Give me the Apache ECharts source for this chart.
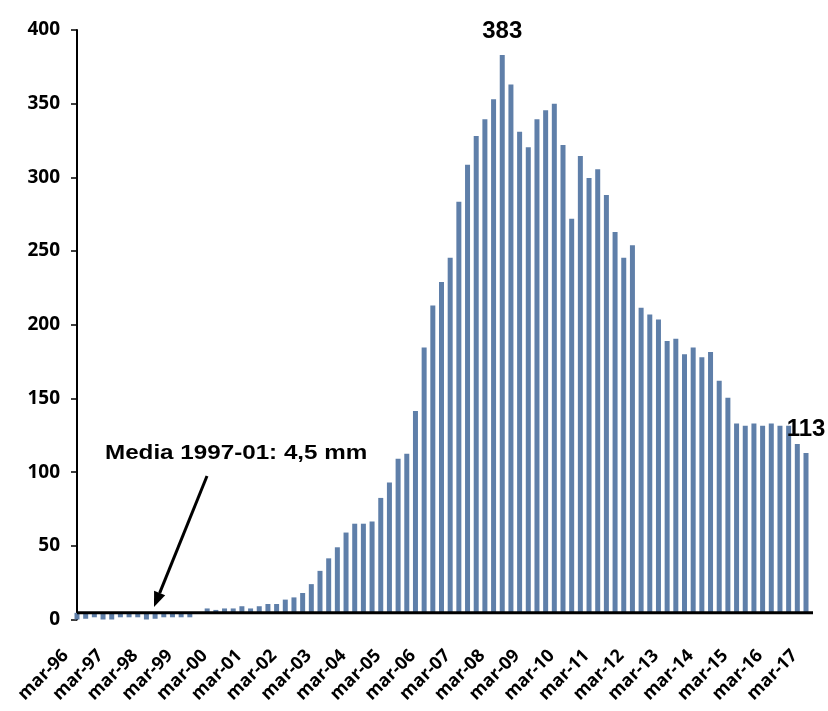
<!DOCTYPE html>
<html><head><meta charset="utf-8">
<script src="https://cdn.jsdelivr.net/npm/echarts@6/dist/echarts.min.js"></script>
<style>html,body{margin:0;padding:0;background:#fff}#c{width:828px;height:711px}</style>
</head><body><div id="c"></div>
<script>
// ---- data ----
const years = ['96','97','98','99','00','01','02','03','04','05','06','07','08','09','10','11','12','13','14','15','16','17'];
const quarterMonths = ['mar','jun','sep','dic'];
const values = [
  0, 0.5, 1.5, 0, 0, 1.5, 1.5, 1.5, 0, 0.5, 1.5, 1.5, 1.5, 1.5, 4.5,
  7.5, 6.5, 7.5, 7.5, 9, 7.5, 9, 10.5, 10.5, 13.5, 15, 18, 24, 33,
  41.5, 49, 59, 65, 65, 66.5, 82.5, 93, 109, 112.5, 141.5, 184.5, 213, 229, 245.5, 283.5,
  308.5, 328, 339.5, 353, 383, 363, 331, 320.5, 339.5, 345.5, 350, 322, 272, 314.5, 299.5, 305.5, 288, 263, 245.5, 254,
  211.5, 207, 203.5, 189, 190.5, 180, 184.5, 178, 181.5, 162, 150.5, 133, 131.5, 133, 131.5, 133, 131.5, 131.5, 119, 113
];
const media = 4.5;
const mediaLabel = 'Media 1997-01: 4,5 mm';
const yMin = 0, yMax = 400, yInterval = 50;

// ---- build ----
const categories = [];
for (const y of years) for (const m of quarterMonths) categories.push(m + '-' + y);
categories.length = values.length;

const maxIdx = values.indexOf(Math.max(...values));
const lastIdx = values.length - 1;

const chart = echarts.init(document.getElementById('c'), null, {renderer: 'canvas'});
const barColor = '#5F7FA9';
chart.setOption({
  animation: false,
  backgroundColor: '#fff',
  grid: {left: 77, right: 22, top: 30, bottom: 91.5, containLabel: false},
  xAxis: {
    type: 'category', data: categories, boundaryGap: false,
    axisLine: {show: false}, axisTick: {show: false},
    axisLabel: {interval: 3, rotate: 45, margin: 22, padding: [0, 16, 0, 0],
      fontFamily: 'Open Sans', fontWeight: 'bold', fontSize: 18, color: '#000'}
  },
  yAxis: {
    type: 'value', min: yMin, max: yMax, interval: yInterval,
    axisLine: {show: true, lineStyle: {color: '#000', width: 2}},
    axisTick: {show: true, length: 6, lineStyle: {color: '#000', width: 1.5}},
    splitLine: {show: false},
    axisLabel: {margin: 17, fontFamily: 'Open Sans', fontWeight: 'bold', fontSize: 19, color: '#000'}
  },
  series: [
    {type: 'bar', stack: 'a', barWidth: 5, silent: true,
     itemStyle: {color: 'rgba(0,0,0,0)'},
     data: values.map(v => Math.min(v, media))},
    {type: 'bar', stack: 'a', barWidth: 5,
     itemStyle: {color: barColor},
     label: {show: false, position: 'top', distance: 12,
       fontFamily: 'Liberation Sans', fontWeight: 'bold', fontSize: 24, color: '#000',
       formatter: p => String(values[p.dataIndex])},
     data: values.map((v, i) => ({value: Math.abs(v - media),
       label: {show: i === maxIdx || i === lastIdx}}))}
  ]
});

const yMed = chart.convertToPixel({yAxisIndex: 0}, media);
// arrow geometry
const ax1 = 207, ay1 = 476, ax2 = 154, ay2 = 607;
const dx = ax2 - ax1, dy = ay2 - ay1, L = Math.hypot(dx, dy);
const ux = dx / L, uy = dy / L, px = -uy, py = ux;
const hl = 15, hw = 6;
const bx = ax2 - ux * hl, by = ay2 - uy * hl;
chart.setOption({
  graphic: [
    {type: 'line', z: 100, shape: {x1: 77, y1: yMed, x2: 813, y2: yMed}, style: {stroke: '#000', lineWidth: 3}},
    {type: 'line', z: 100, shape: {x1: ax1, y1: ay1, x2: bx, y2: by}, style: {stroke: '#000', lineWidth: 3}},
    {type: 'polygon', z: 100, shape: {points: [[ax2, ay2], [bx + px * hw, by + py * hw], [bx - px * hw, by - py * hw]]}, style: {fill: '#000'}},
    {type: 'text', z: 100, x: 105, y: 453, scaleX: 1.21,
     style: {text: mediaLabel, font: 'bold 20px "Liberation Sans", Arial, sans-serif', fill: '#000', align: 'left', verticalAlign: 'middle'}}
  ]
});
</script></body></html>
